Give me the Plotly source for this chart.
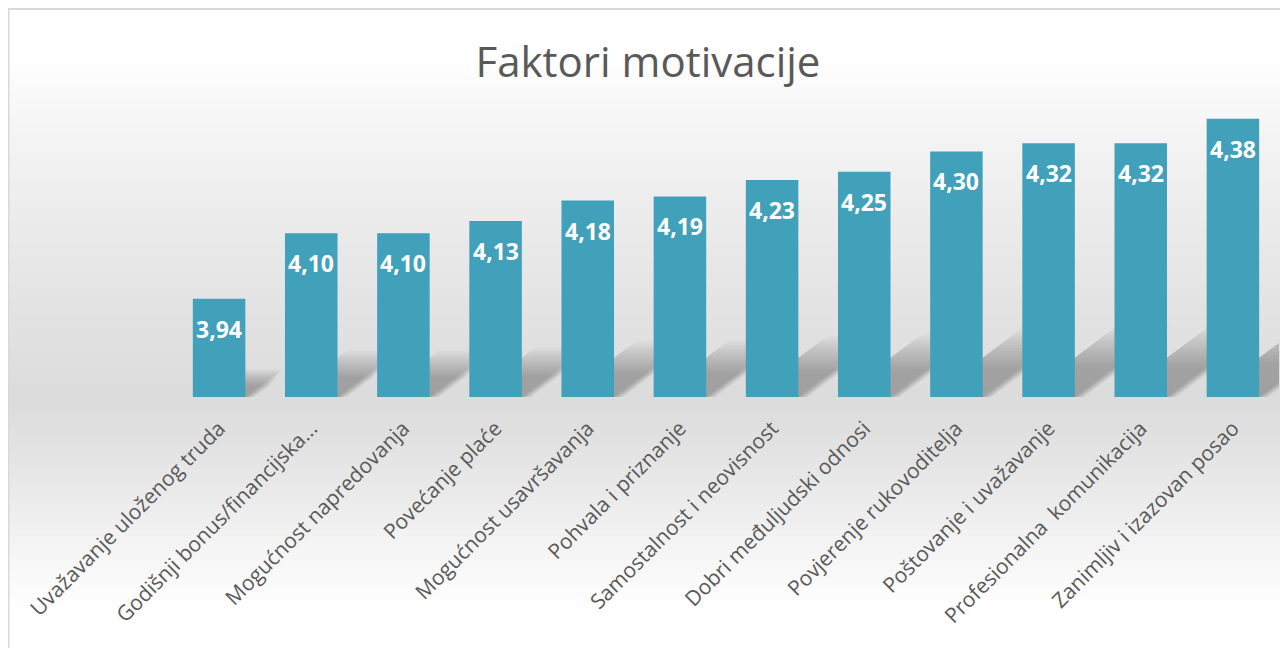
import plotly.graph_objects as go

categories = [
    "Uvažavanje uloženog truda",
    "Godišnji bonus/financijska...",
    "Mogućnost napredovanja",
    "Povećanje plaće",
    "Mogućnost usavršavanja",
    "Pohvala i priznanje",
    "Samostalnost i neovisnost",
    "Dobri međuljudski odnosi",
    "Povjerenje rukovoditelja",
    "Poštovanje i uvažavanje",
    "Profesionalna\u00a0 komunikacija",
    "Zanimljiv i izazovan posao",
]
values = [3.94, 4.10, 4.10, 4.13, 4.18, 4.19, 4.23, 4.25, 4.30, 4.32, 4.32, 4.38]
title_text = "Faktori motivacije"

Y_MIN, Y_MAX = 3.7, 4.45
BAR_W = 0.57

# figure size (page has an 8px body margin)
W, H = 1280, 640
OFF = 8
ML, MR, MT, MB = 165, 9, 82, 251
PW, PH = W - ML - MR, H - MT - MB


def fx(page_px):
    return (page_px - OFF - ML) / PW


def fy(page_py):
    return (H - MB - (page_py - OFF)) / PH


idx = list(range(len(categories)))

fig = go.Figure()
fig.add_trace(go.Bar(
    x=idx, y=values,
    marker=dict(color="#41a1ba", line=dict(width=0)),
    width=BAR_W,
    hovertext=categories, hoverinfo="text+y",
))

annotations = []
for i, v in zip(idx, values):
    annotations.append(dict(
        x=i, y=v, xref="x", yref="y", yshift=-30,
        text=f"{v:.2f}".replace(".", ","), showarrow=False,
        font=dict(family="Open Sans", size=23, color="white", weight="bold"),
    ))

shapes = []


def grey_at(py):
    if py <= 60:
        t = 0
    elif py <= 390:
        t = ((py - 60) / 330) ** 0.8
    elif py <= 410:
        t = 1
    elif py <= 610:
        t = 1 - (py - 410) / 200
    else:
        t = 0
    g = round(255 - t * (255 - 220))
    return f"rgb({g},{g},{g})"


step = 6
for py in range(8, 649, step):
    shapes.append(dict(
        type="rect", xref="paper", yref="paper", layer="below",
        x0=fx(8), x1=fx(1288),
        y0=fy(min(py + step, 648)), y1=fy(py),
        fillcolor=grey_at(py + step / 2), line=dict(width=0),
    ))

# soft cast shadows derived from each bar
px_per_cat = PW / (len(categories))
px_per_unit = PH / (Y_MAX - Y_MIN)
N_LAYERS = 14
for i, v in zip(idx, values):
    h_px = (v - Y_MIN) * px_per_unit
    for k in range(N_LAYERS):
        f = 1.05 - 0.045 * k
        dx = 0.36 * h_px * f / px_per_cat
        rise = 0.27 * h_px * f / px_per_unit
        xl, xr = i - BAR_W / 2, i + BAR_W / 2 + 0.008 * k
        path = (f"M {xl},{Y_MIN} L {xr},{Y_MIN} "
                f"L {xr + dx},{Y_MIN + rise} L {xl + dx},{Y_MIN + rise} Z")
        shapes.append(dict(
            type="path", xref="x", yref="y", layer="below", path=path,
            fillcolor="rgba(0,0,0,0.02)", line=dict(width=0),
        ))

# chart border
shapes.append(dict(
    type="rect", xref="paper", yref="paper", layer="above",
    x0=fx(8.5), x1=fx(1285), y0=fy(660), y1=fy(9),
    line=dict(color="#d9d9d9", width=2), fillcolor="rgba(0,0,0,0)",
))

fig.update_layout(
    width=W, height=H,
    margin=dict(l=ML, r=MR, t=MT, b=MB),
    paper_bgcolor="white", plot_bgcolor="rgba(0,0,0,0)",
    title=dict(text=title_text, x=0.5, xref="container", y=1 - (62 - OFF) / H, yref="container",
               yanchor="middle", xanchor="center",
               font=dict(family="Open Sans", size=42, color="#595959")),
    xaxis=dict(tickmode="array", tickvals=idx, ticktext=categories,
               range=[-0.5, len(categories) - 0.5],
               tickangle=-45, showgrid=False, showline=False, zeroline=False, ticks="",
               ticklabelstandoff=14,
               tickfont=dict(family="Open Sans", size=21, color="#595959")),
    yaxis=dict(range=[Y_MIN, Y_MAX], visible=False, showgrid=False),
    shapes=shapes, annotations=annotations,
    showlegend=False,
)

fig.write_html("out.html")
